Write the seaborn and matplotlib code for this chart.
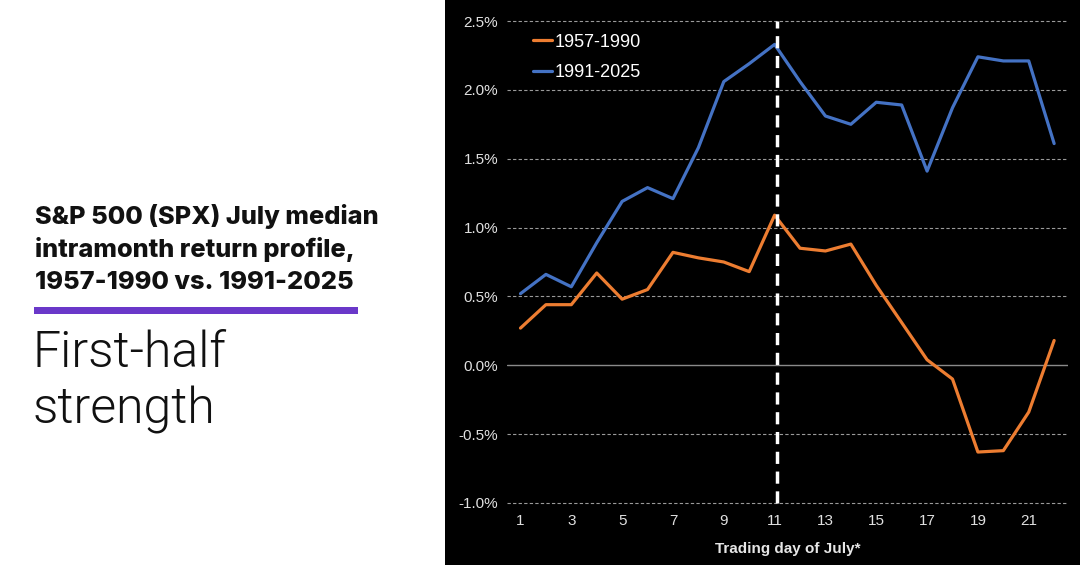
import pandas as pd
import matplotlib.pyplot as plt
import seaborn as sns

# valores (rentabilidad mediana acumulada, %)
dias = list(range(1, 23))
ret_1957_1990 = [0.27, 0.44, 0.44, 0.67, 0.48, 0.55, 0.82, 0.78, 0.75, 0.68, 1.09,
                 0.85, 0.83, 0.88, 0.58, 0.31, 0.04, -0.10, -0.63, -0.62, -0.34, 0.18]
ret_1991_2025 = [0.52, 0.66, 0.57, 0.89, 1.19, 1.29, 1.21, 1.58, 2.06, 2.19, 2.33,
                 2.06, 1.81, 1.75, 1.91, 1.89, 1.41, 1.87, 2.24, 2.21, 2.21, 1.61]
series = ['1957-1990', '1991-2025']
colores = ['#ED7D31', '#4472C4']
yticks = [-1.0, -0.5, 0.0, 0.5, 1.0, 1.5, 2.0, 2.5]
xticks = [1, 3, 5, 7, 9, 11, 13, 15, 17, 19, 21]
dia_medio = 11.1

df = pd.DataFrame({'Dia': dias * 2,
                   'Ret': ret_1957_1990 + ret_1991_2025,
                   'Periodo': [series[0]] * len(dias) + [series[1]] * len(dias)})

sns.set_theme(style='white')
plt.rcParams['font.family'] = ['Liberation Sans', 'DejaVu Sans']

fig = plt.figure(figsize=(10.8, 5.65), dpi=100)
fig.patch.set_facecolor('white')

# panel negro de la derecha
fondo = fig.add_axes([0.412, 0, 0.588, 1])
fondo.set_facecolor('black')
fondo.set_xticks([])
fondo.set_yticks([])
for s in fondo.spines.values():
    s.set_visible(False)
fondo.set_zorder(0)

# textos de la izquierda
titulo = ['S&P 500 (SPX) July median', 'intramonth return profile,', '1957-1990 vs. 1991-2025']
for i, linea in enumerate(titulo):
    fig.text(0.032, 1 - (224 + 32.5 * i) / 565, linea, fontsize=18.3,
             fontweight=800, family=['Inter', 'DejaVu Sans'], va='baseline',
             color='#111111')
fig.patches.append(plt.Rectangle((34 / 1080, 1 - 314 / 565), 324 / 1080, 7 / 565,
                                 transform=fig.transFigure, facecolor='#6A38C9',
                                 edgecolor='none'))
fig.text(0.030, 1 - 367 / 565, 'First-half', fontsize=36, fontweight=300,
         family=['Roboto', 'DejaVu Sans'], va='baseline', color='#111111')
fig.text(0.030, 1 - 423 / 565, 'strength', fontsize=36, fontweight=300,
         family=['Roboto', 'DejaVu Sans'], va='baseline', color='#111111')

# grafico
ax = fig.add_axes([0.469, 0.1049, 0.52, 0.8628])
ax.set_zorder(2)
ax.set_facecolor('black')
ax.set_xlim(0.45, 22.55)
ax.set_ylim(-1.02, 2.52)

for y in yticks:
    if y == 0:
        ax.axhline(y, color='#8a8a8a', lw=1.0, zorder=1)
    else:
        ax.axhline(y, color='#9a9a9a', lw=0.8, ls=(0, (3, 2)), zorder=1)

sns.lineplot(data=df, x='Dia', y='Ret', hue='Periodo', palette=colores,
             linewidth=2.3, ax=ax, zorder=3)

ax.axvline(dia_medio, ymin=(-1.0 + 1.02) / 3.54, ymax=(2.5 + 1.02) / 3.54,
           color='white', lw=2.5, ls=(0, (3.5, 2.2)), zorder=4)

ax.set_yticks(yticks)
ax.set_yticklabels([f'{v:.1f}%' for v in yticks])
ax.set_xticks(xticks)
ax.set_xticklabels([str(v) for v in xticks])
ax.tick_params(axis='both', colors='#e0e0e0', labelsize=11, length=0, pad=6)
for s in ax.spines.values():
    s.set_visible(False)
ax.set_ylabel('')
ax.set_xlabel('Trading day of July*', color='#e6e6e6', fontsize=11,
              fontweight='bold', family=['Liberation Sans Narrow', 'Liberation Sans'],
              labelpad=10)

leg = ax.legend(loc='upper left', bbox_to_anchor=(0.0175, 1.002), frameon=False,
                handlelength=1.1, handletextpad=0.1, labelspacing=0.75, fontsize=13,
                labelcolor='white')

fig.savefig('out.png', dpi=100, facecolor=fig.get_facecolor())
